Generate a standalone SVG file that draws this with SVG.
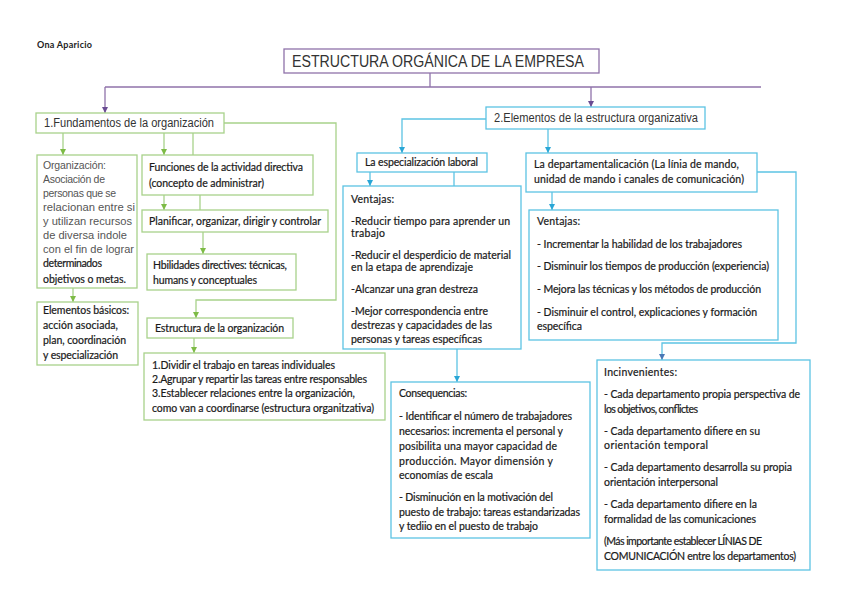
<svg xmlns="http://www.w3.org/2000/svg" width="848" height="599" viewBox="0 0 848 599">
<style>
.bg{fill:#ffffff}
.gb{fill:#ffffff;stroke:#a8d28a;stroke-width:1.3}
.cb{fill:#ffffff;stroke:#5cc3e3;stroke-width:1.3}
.pb{fill:#ffffff;stroke:#8f72aa;stroke-width:1.3}
.gl{fill:none;stroke:#a8d28a;stroke-width:1.3}
.cl{fill:none;stroke:#5cc3e3;stroke-width:1.3}
.pl{fill:none;stroke:#8f72aa;stroke-width:1.3}
.t{font-family:Lato,"Open Sans",sans-serif;font-size:10.5px;fill:#1a1a1a;stroke:#1a1a1a;stroke-width:0.2}
.a{font-family:"Liberation Sans",Arial,sans-serif;font-size:10.5px;fill:#555}
.h{font-family:"Liberation Sans",Arial,sans-serif;fill:#333}
</style>
<defs>
<marker id="mg" viewBox="0 0 6 6" refX="6" refY="3" markerWidth="6" markerHeight="6" markerUnits="userSpaceOnUse" orient="auto"><path d="M0,0 L6,3 L0,6 z" fill="#7dbb45"/></marker>
<marker id="mc" viewBox="0 0 6 6" refX="6" refY="3" markerWidth="6" markerHeight="6" markerUnits="userSpaceOnUse" orient="auto"><path d="M0,0 L6,3 L0,6 z" fill="#2aa6d6"/></marker>
<marker id="mb" viewBox="0 0 6 6" refX="6" refY="3" markerWidth="6" markerHeight="6" markerUnits="userSpaceOnUse" orient="auto"><path d="M0,0 L6,3 L0,6 z" fill="#4a78b5"/></marker>
<marker id="mp" viewBox="0 0 6 6" refX="6" refY="3" markerWidth="6" markerHeight="6" markerUnits="userSpaceOnUse" orient="auto"><path d="M0,0 L6,3 L0,6 z" fill="#6a4c93"/></marker>
</defs>
<rect class="bg" x="0" y="0" width="848" height="599"/>

<g id="author"><text x="37" y="48" style="font-family:Lato,sans-serif;font-size:9px;font-weight:bold;fill:#222" textLength="55">Ona Aparicio</text></g>

<g id="connectors">
<path class="pl" d="M430,73 V87"/>
<path class="pl" d="M105,87 H761"/>
<path class="pl" d="M105,87 V113" marker-end="url(#mp)"/>
<path class="pl" d="M591,87 V107" marker-end="url(#mp)"/>
<path class="gl" d="M63,133 V155" marker-end="url(#mg)"/>
<path class="gl" d="M164,133 V155" marker-end="url(#mg)"/>
<path class="gl" d="M193,133 V155"/>
<path class="gl" d="M224,123 H336 V300 H196 V318" marker-end="url(#mg)"/>
<path class="gl" d="M73,288 V302" marker-end="url(#mg)"/>
<path class="gl" d="M164,195 V210" marker-end="url(#mg)"/>
<path class="gl" d="M200,195 V210"/>
<path class="gl" d="M203,232 V254" marker-end="url(#mg)"/>
<path class="gl" d="M194,338 V353" marker-end="url(#mg)"/>
<path class="cl" d="M486,119 H402 V153" marker-end="url(#mc)"/>
<path class="cl" d="M548,129 V153" marker-end="url(#mc)"/>
<path class="cl" d="M370,172 V186" marker-end="url(#mc)"/>
<path class="cl" d="M454,172 V186"/>
<path class="cl" d="M457,349 V382" marker-end="url(#mc)"/>
<path class="cl" d="M552,192 V210" marker-end="url(#mc)"/>
<path class="cl" d="M757,172 H796 V343 H662 V360" marker-end="url(#mb)"/>
</g>

<g id="title">
<rect class="pb" x="284" y="49" width="315" height="24"/>
<text class="h" x="292" y="67" style="font-size:16px" textLength="292" lengthAdjust="spacingAndGlyphs">ESTRUCTURA ORGÁNICA DE LA EMPRESA</text>
</g>

<g id="fundamentos">
<rect class="gb" x="36" y="113" width="188" height="20"/>
<text class="h" x="44" y="127" style="font-size:12px" textLength="170" lengthAdjust="spacingAndGlyphs">1.Fundamentos de la organización</text>
</g>

<g id="elementos">
<rect class="cb" x="486" y="107" width="219" height="22"/>
<text class="h" x="494" y="122" style="font-size:12px" textLength="204" lengthAdjust="spacingAndGlyphs">2.Elementos de la estructura organizativa</text>
</g>

<g id="organizacion">
<rect class="gb" x="37" y="155" width="100" height="133"/>
<text class="a" x="43" y="169" textLength="63">Organización:</text>
<text class="a" x="43" y="183" textLength="62">Asociación de</text>
<text class="a" x="43" y="197" textLength="73">personas que se</text>
<text class="a" x="43" y="211" textLength="92" lengthAdjust="spacingAndGlyphs">relacionan entre si</text>
<text class="a" x="43" y="225" textLength="89" lengthAdjust="spacingAndGlyphs">y utilizan recursos</text>
<text class="a" x="43" y="239" textLength="84" lengthAdjust="spacingAndGlyphs">de diversa indole</text>
<text class="a" x="43" y="253" textLength="91" lengthAdjust="spacingAndGlyphs">con el fin de lograr</text>
<text class="t" x="43" y="267" textLength="59">determinados</text>
<text class="t" x="43" y="283" textLength="83">objetivos o metas.</text>
</g>

<g id="elementos-basicos">
<rect class="gb" x="37" y="302" width="101" height="63"/>
<text class="t" x="43" y="314" textLength="86">Elementos básicos:</text>
<text class="t" x="43" y="329" textLength="75">acción asociada,</text>
<text class="t" x="43" y="344" textLength="83">plan, coordinación</text>
<text class="t" x="43" y="359" textLength="75">y especialización</text>
</g>

<g id="funciones">
<rect class="gb" x="142" y="155" width="171" height="40"/>
<text class="t" x="149" y="171" textLength="154">Funciones de la actividad directiva</text>
<text class="t" x="149" y="187" textLength="115">(concepto de administrar)</text>
</g>

<g id="planificar">
<rect class="gb" x="142" y="210" width="186" height="22"/>
<text class="t" x="149" y="225" textLength="172">Planificar, organizar, dirigir y controlar</text>
</g>

<g id="habilidades">
<rect class="gb" x="147" y="254" width="149" height="36"/>
<text class="t" x="153" y="269" textLength="134">Hbilidades directives: técnicas,</text>
<text class="t" x="153" y="284" textLength="104">humans y conceptuales</text>
</g>

<g id="estructura">
<rect class="gb" x="147" y="318" width="146" height="20"/>
<text class="t" x="155" y="332" textLength="129">Estructura de la organización</text>
</g>

<g id="lista">
<rect class="gb" x="144" y="353" width="241" height="67"/>
<text class="t" x="152" y="369" textLength="183">1.Dividir el trabajo en tareas individuales</text>
<text class="t" x="152" y="383" textLength="215">2.Agrupar y repartir las tareas entre responsables</text>
<text class="t" x="152" y="397" textLength="203">3.Establecer relaciones entre la organización,</text>
<text class="t" x="152" y="412" textLength="222">como van a coordinarse (estructura organitzativa)</text>
</g>

<g id="especializacion">
<rect class="cb" x="357" y="153" width="130" height="19"/>
<text class="t" x="365" y="166" textLength="113">La especialización laboral</text>
</g>

<g id="ventajas1">
<rect class="cb" x="343" y="186" width="178" height="163"/>
<text class="t" x="351" y="203" textLength="43">Ventajas:</text>
<text class="t" x="351" y="225" textLength="159">-Reducir tiempo para aprender un</text>
<text class="t" x="351" y="237" textLength="34">trabajo</text>
<text class="t" x="351" y="259" textLength="160">-Reducir el desperdicio de material</text>
<text class="t" x="351" y="271" textLength="122">en la etapa de aprendizaje</text>
<text class="t" x="351" y="293" textLength="127">-Alcanzar una gran destreza</text>
<text class="t" x="351" y="315" textLength="137">-Mejor correspondencia entre</text>
<text class="t" x="351" y="329" textLength="141">destrezas y capacidades de las</text>
<text class="t" x="351" y="343" textLength="131">personas y tareas específicas</text>
</g>

<g id="consequencias">
<rect class="cb" x="391" y="382" width="199" height="156"/>
<text class="t" x="399" y="397" textLength="68">Consequencias:</text>
<text class="t" x="399" y="420" textLength="173">- Identificar el número de trabajadores</text>
<text class="t" x="399" y="435" textLength="164">necesarios: incrementa el personal y</text>
<text class="t" x="399" y="450" textLength="158">posibilita una mayor capacidad de</text>
<text class="t" x="399" y="465" textLength="154">producción. Mayor dimensión y</text>
<text class="t" x="399" y="479" textLength="94">economías de escala</text>
<text class="t" x="399" y="501" textLength="154">- Disminución en la motivación del</text>
<text class="t" x="399" y="516" textLength="181">puesto de trabajo: tareas estandarizadas</text>
<text class="t" x="399" y="530" textLength="139">y tediio en el puesto de trabajo</text>
</g>

<g id="departamentalizacion">
<rect class="cb" x="526" y="153" width="231" height="39"/>
<text class="t" x="534" y="168" textLength="205">La departamentalicación (La línia de mando,</text>
<text class="t" x="534" y="183" textLength="210">unidad de mando i canales de comunicación)</text>
</g>

<g id="ventajas2">
<rect class="cb" x="529" y="210" width="249" height="130"/>
<text class="t" x="537" y="225" textLength="43">Ventajas:</text>
<text class="t" x="537" y="248" textLength="205">- Incrementar la habilidad de los trabajadores</text>
<text class="t" x="537" y="270" textLength="232">- Disminuir los tiempos de producción (experiencia)</text>
<text class="t" x="537" y="293" textLength="224">- Mejora las técnicas y los métodos de producción</text>
<text class="t" x="537" y="316" textLength="220">- Disminuir el control, explicaciones y formación</text>
<text class="t" x="537" y="330" textLength="45">específica</text>
</g>

<g id="inconvenientes">
<rect class="cb" x="597" y="360" width="213" height="210"/>
<text class="t" x="604" y="376" textLength="73">Incinvenientes:</text>
<text class="t" x="604" y="398" textLength="196">- Cada departamento propia perspectiva de</text>
<text class="t" x="604" y="413" textLength="94">los objetivos, conflictes</text>
<text class="t" x="604" y="435" textLength="156">- Cada departamento difiere en su</text>
<text class="t" x="604" y="449" textLength="104">orientación temporal</text>
<text class="t" x="604" y="471" textLength="188">- Cada departamento desarrolla su propia</text>
<text class="t" x="604" y="486" textLength="114">orientación interpersonal</text>
<text class="t" x="604" y="508" textLength="153">- Cada departamento difiere en la</text>
<text class="t" x="604" y="523" textLength="152">formalidad de las comunicaciones</text>
<text class="t" x="604" y="545" textLength="158">(Más importante establecer LÍNIAS DE</text>
<text class="t" x="604" y="560" textLength="192">COMUNICACIÓN entre los departamentos)</text>
</g>
</svg>
